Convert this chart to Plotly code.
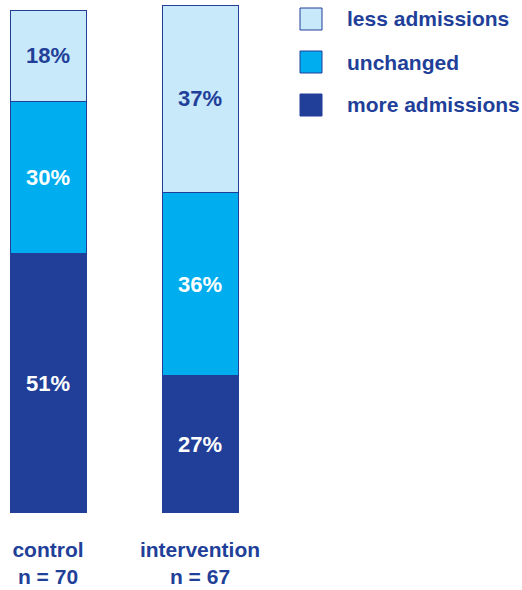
import plotly.graph_objects as go

groups = ["control", "intervention"]
group_labels = ["control<br>n = 70", "intervention<br>n = 67"]
series_names = ["more admissions", "unchanged", "less admissions"]
more_admissions = [51, 27]
unchanged = [30, 36]
less_admissions = [18, 37]

DARK = "#213F99"
MID = "#00AEEF"
LIGHT = "#C8E9F9"
FONT = "Liberation Sans, Arial, sans-serif"

W, H = 522, 590
M_T, M_B = 5, 77
plot_h = H - M_T - M_B

fig = go.Figure()
series = [
    (series_names[0], more_admissions, DARK, "white"),
    (series_names[1], unchanged, MID, "white"),
    (series_names[2], less_admissions, LIGHT, DARK),
]
x_pos = [0, 1]
for name, vals, color, tcolor in series:
    fig.add_trace(go.Bar(
        x=x_pos, y=vals, name=name, width=0.5,
        marker=dict(color=color, line=dict(color=DARK, width=1)),
        text=[f"<b>{v}%</b>" for v in vals],
        textposition="inside", insidetextanchor="middle",
        textfont=dict(family=FONT, size=22, color=tcolor),
        showlegend=False,
    ))

# legend drawn as swatches with labels, in pixel-derived paper coords
def px_x(px):
    return px / W

def px_y(py):
    return (H - M_B - py) / plot_h

legend_items = [
    (series_names[2], LIGHT, 19),
    (series_names[1], MID, 62),
    (series_names[0], DARK, 105),
]
for name, color, cy in legend_items:
    fig.add_shape(type="rect", xref="paper", yref="paper",
                  x0=px_x(300), x1=px_x(322), y0=px_y(cy + 11), y1=px_y(cy - 11),
                  fillcolor=color, line=dict(color=DARK, width=1))
    fig.add_annotation(xref="paper", yref="paper", x=px_x(345), y=px_y(cy),
                       text=f"<b>{name}</b>", showarrow=False,
                       xanchor="left", yanchor="middle",
                       font=dict(family=FONT, size=21, color=DARK))

fig.update_layout(
    width=W, height=H,
    margin=dict(l=0, r=0, t=M_T, b=M_B),
    barmode="stack",
    plot_bgcolor="white", paper_bgcolor="white",
    uniformtext=dict(mode=False),
    xaxis=dict(range=[-48 / 152, (W - 48) / 152], tickvals=x_pos,
               ticktext=[f"<b>{t}</b>" for t in group_labels],
               tickfont=dict(family=FONT, size=21, color=DARK),
               showgrid=False, zeroline=False, showline=False, ticks="",
               ticklabelstandoff=22),
    yaxis=dict(range=[0, 100], visible=False),
)

fig.write_html("out.html")
